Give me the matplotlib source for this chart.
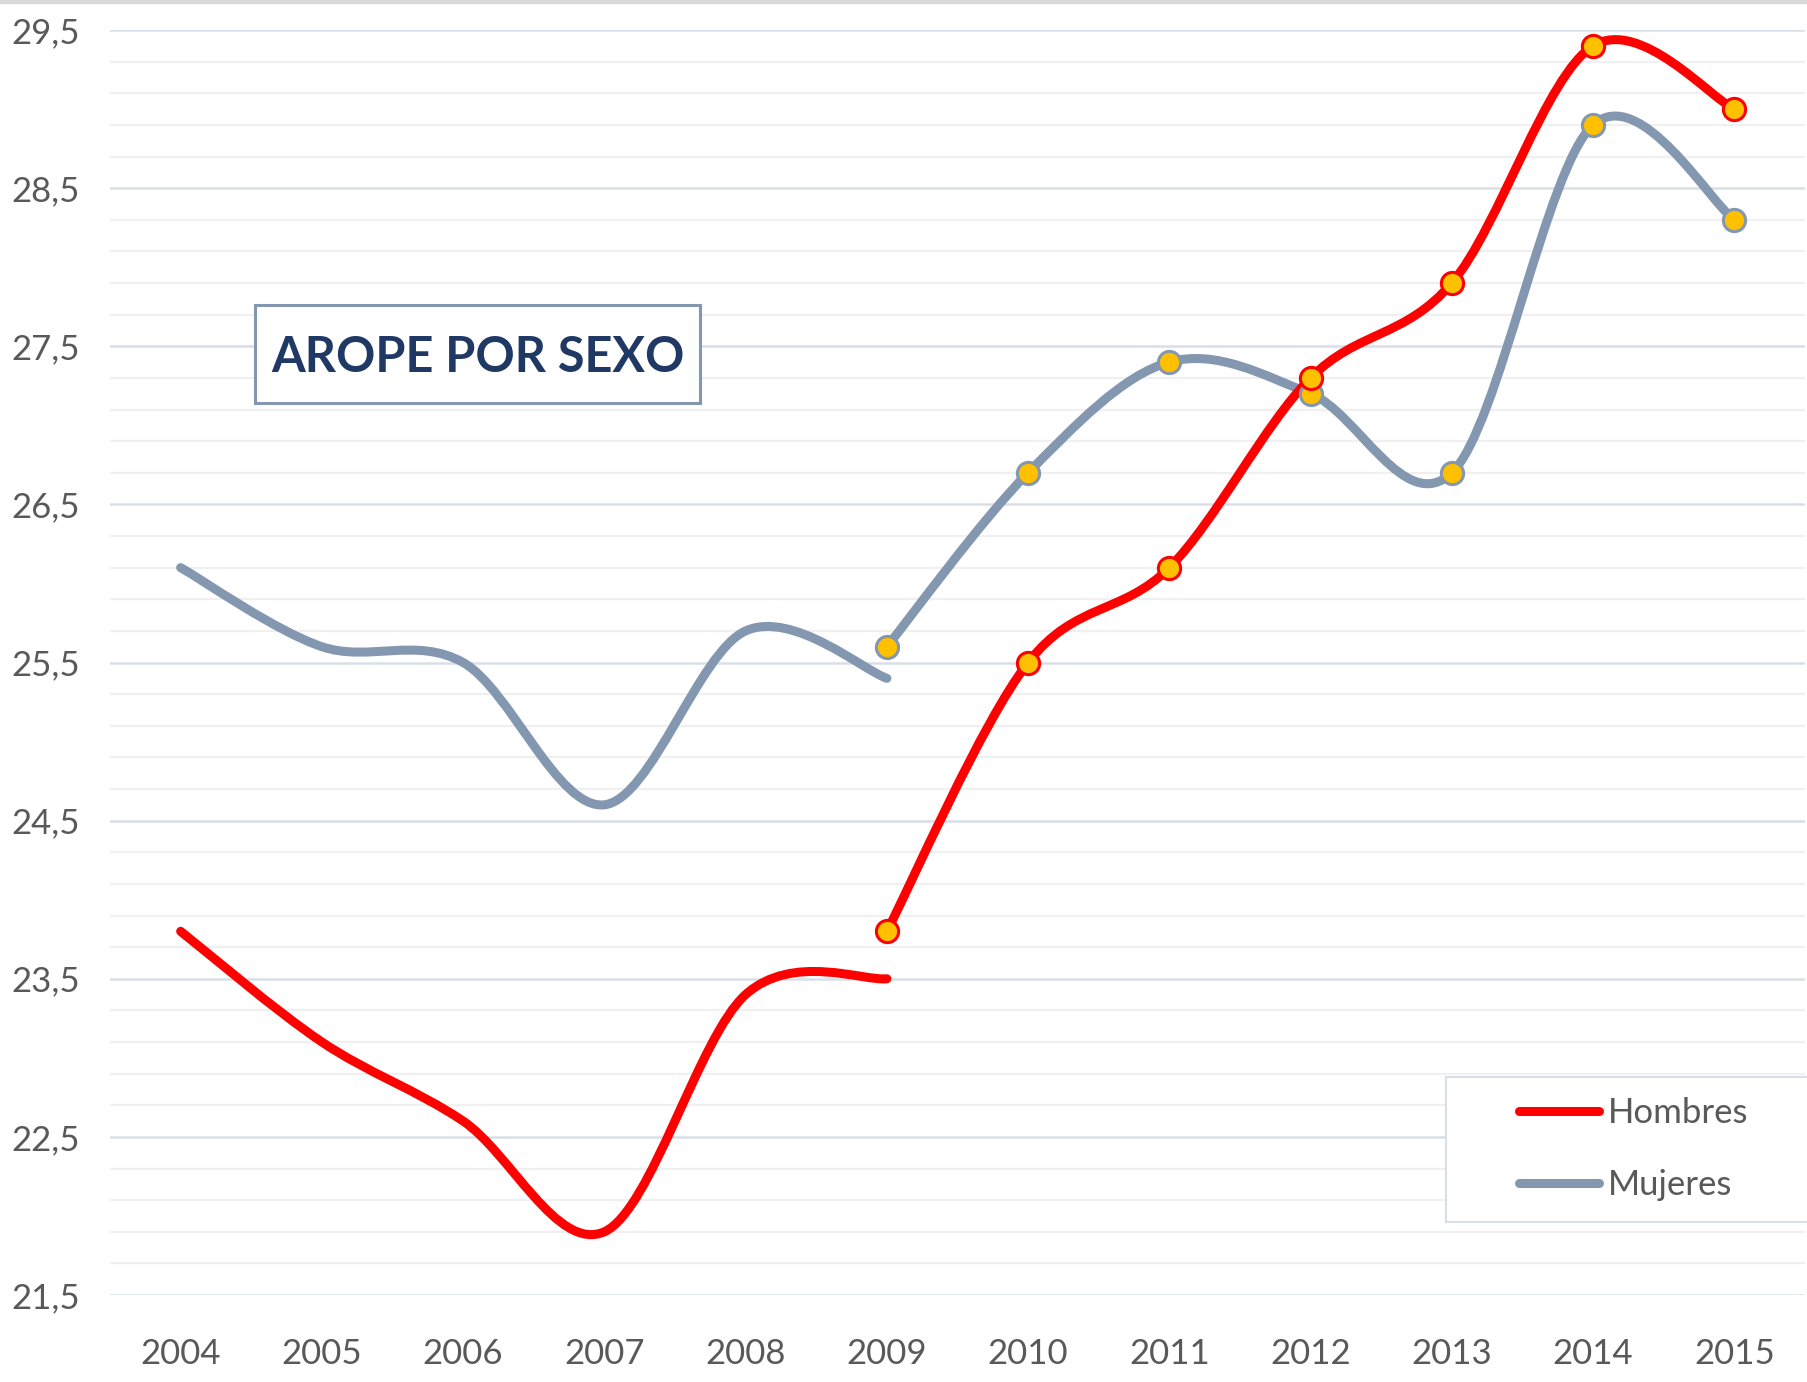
import matplotlib
matplotlib.use("Agg")
import matplotlib.pyplot as plt
from matplotlib.path import Path
from matplotlib.patches import PathPatch, Rectangle
from matplotlib.lines import Line2D
import numpy as np

# ---- data ----
years = ["2004", "2005", "2006", "2007", "2008", "2009",
         "2010", "2011", "2012", "2013", "2014", "2015"]
hombres_a = [23.8, 23.1, 22.6, 21.9, 23.4, 23.5]          # 2004-2009
hombres_b = [23.8, 25.5, 26.1, 27.3, 27.9, 29.4, 29.0]    # 2009-2015
mujeres_a = [26.1, 25.6, 25.5, 24.6, 25.7, 25.4]          # 2004-2009
mujeres_b = [25.6, 26.7, 27.4, 27.2, 26.7, 28.9, 28.3]    # 2009-2015
ytick_vals = [21.5, 22.5, 23.5, 24.5, 25.5, 26.5, 27.5, 28.5, 29.5]
title = "AROPE POR SEXO"

RED = "#FF0000"
GRAY = "#8497B0"
GOLD = "#FFC000"
TXT = "#595959"
FONT = ["Lato", "DejaVu Sans"]

W, H = 1807, 1382
fig = plt.figure(figsize=(W / 100, H / 100), dpi=100)
ax = fig.add_axes([110 / W, 1 - 1295 / H, 1695 / W, 1265 / H])
ax.set_xlim(-0.5, len(years) - 0.5)
ax.set_ylim(21.5, 29.5)

# grid
for v in np.arange(21.5, 29.51, 0.2):
    v = round(v, 1)
    major = abs((v - 21.5) - round(v - 21.5)) < 1e-6
    ax.axhline(v, color="#D9DEE8" if major else "#F0F0F0",
               lw=1.8 if major else 1.6, zorder=0)

def smooth_path(xs, ys):
    pts = np.column_stack([xs, ys]).astype(float)
    n = len(pts)
    verts = [pts[0]]
    codes = [Path.MOVETO]
    for i in range(n - 1):
        p0 = pts[i - 1] if i > 0 else pts[i]
        p1 = pts[i]
        p2 = pts[i + 1]
        p3 = pts[i + 2] if i + 2 < n else pts[i + 1]
        c1 = p1 + (p2 - p0) / 6.0
        c2 = p2 - (p3 - p1) / 6.0
        verts += [c1, c2, p2]
        codes += [Path.CURVE4] * 3
    return Path(verts, codes)

def draw(xs, ys, color, markers):
    patch = PathPatch(smooth_path(xs, ys), facecolor="none", edgecolor=color,
                      lw=6.5, capstyle="round", joinstyle="round", zorder=3)
    ax.add_patch(patch)
    if markers:
        ax.plot(xs, ys, ls="none", marker="o", ms=16, mfc=GOLD, mec=color,
                mew=2.2, zorder=4)

xa = np.arange(0, 6)
xb = np.arange(5, 12)
draw(xa, mujeres_a, GRAY, False)
draw(xa, hombres_a, RED, False)
draw(xb, mujeres_b, GRAY, True)
draw(xb, hombres_b, RED, True)

# axes styling
for s in ax.spines.values():
    s.set_visible(False)
ax.set_xticks(range(len(years)))
ax.set_xticklabels(years)
ax.set_yticks(ytick_vals)
ax.set_yticklabels([f"{v:.1f}".replace(".", ",") for v in ytick_vals])
ax.tick_params(axis="both", length=0, labelcolor=TXT, labelsize=25)
ax.tick_params(axis="x", pad=31)
ax.tick_params(axis="y", pad=71)
for lab in ax.get_yticklabels():
    lab.set_horizontalalignment("left")
    lab.set_family(FONT)
for lab in ax.get_xticklabels():
    lab.set_family(FONT)

# title box
x0, x1 = (255 - 110) / 1695, (700 - 110) / 1695
y0, y1 = (1295 - 403) / 1265, (1295 - 305) / 1265
ax.add_patch(Rectangle((x0, y0), x1 - x0, y1 - y0, transform=ax.transAxes,
                       fc="white", ec=GRAY, lw=2.2, zorder=5))
ax.text((x0 + x1) / 2, (y0 + y1) / 2, title, transform=ax.transAxes,
        ha="center", va="center_baseline", fontsize=35, fontweight="bold",
        color="#1F3864", family=FONT, zorder=6)

# legend
fig.add_artist(Rectangle((1446 / W, 1 - 1222 / H), (1810 - 1446) / W, (1222 - 1077) / H,
                         transform=fig.transFigure, fc="white", ec="#D9DEE8", lw=1.5,
                         zorder=5))
handles = [Line2D([], [], color=RED, lw=6.5, solid_capstyle="round"),
           Line2D([], [], color=GRAY, lw=6.5, solid_capstyle="round")]
leg = fig.legend(handles, ["Hombres", "Mujeres"], loc="center left",
                 bbox_to_anchor=(1519 / W, 1 - 1149 / H), frameon=False,
                 borderpad=0, borderaxespad=0, handlelength=2.3, handletextpad=0.25,
                 labelspacing=1.15, prop={"family": FONT, "size": 25})
leg.set_zorder(6)
for t in leg.get_texts():
    t.set_color(TXT)

# top border
fig.add_artist(Line2D([0, 1], [1 - 1.5 / H, 1 - 1.5 / H], transform=fig.transFigure,
                      color="#D9D9D9", lw=3))

fig.savefig("out.png", dpi=100, facecolor="white")
